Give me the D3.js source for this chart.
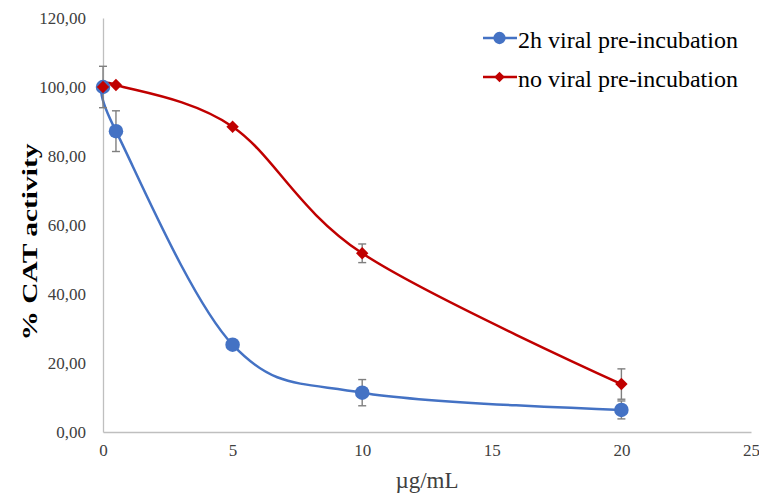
<!DOCTYPE html>
<html>
<head>
<meta charset="utf-8">
<script src="https://cdn.jsdelivr.net/npm/d3@7/dist/d3.min.js"></script>
<style>
  html, body { margin: 0; padding: 0; background: #fff; }
  svg { display: block; }
</style>
</head>
<body>
<svg id="chart" width="759" height="497"></svg>
<script>
// Concentrations (µg/mL)
const doses = [0, 0.5, 5, 10, 20];
// % CAT activity, 2h viral pre-incubation
const preIncValues = [100, 87.2, 25.3, 11.4, 6.4];
const preIncErrors = [6, 5.9, 0, 3.8, 2.6];
// % CAT activity, no viral pre-incubation
const noPreValues = [100, 100.6, 88.5, 51.8, 13.9];
const noPreErrors = [0, 0, 0, 2.7, 4.4];
// Axis ticks
const xTicks = [0, 5, 10, 15, 20, 25];
const yTicks = [0, 20, 40, 60, 80, 100, 120];

const seriesNames = ["2h viral pre-incubation", "no viral pre-incubation"];
const seriesColors = ["#4472C4", "#C00000"];

const serif = "'Liberation Serif', 'Times New Roman', 'DejaVu Serif', serif";

const svg = d3.select("#chart");
const margin = { left: 103, right: 751, top: 18, bottom: 432 };

const x = d3.scaleLinear().domain([0, 25]).range([margin.left, margin.right]);
const y = d3.scaleLinear().domain([0, 120]).range([margin.bottom, margin.top]);

// Axes
const axisColor = "#bfbfbf";
const xAxis = svg.append("g").attr("transform", `translate(0,${margin.bottom})`)
  .call(d3.axisBottom(x).tickValues(xTicks).tickSize(0).tickPadding(12).tickFormat(d3.format("d")));
xAxis.attr("font-family", serif).attr("font-size", 17);
xAxis.select(".domain").attr("stroke", axisColor).attr("stroke-width", 1.3);
xAxis.selectAll("text").attr("fill", "#404040");

const fmt = d => d.toFixed(2).replace(".", ",");
const yAxis = svg.append("g").attr("transform", `translate(${margin.left},0)`)
  .call(d3.axisLeft(y).tickValues(yTicks).tickSize(0).tickPadding(17).tickFormat(fmt));
yAxis.attr("font-family", serif).attr("font-size", 17);
yAxis.select(".domain").attr("stroke", axisColor).attr("stroke-width", 1.3);
yAxis.selectAll("text").attr("fill", "#404040");

// Axis titles
svg.append("text")
  .attr("x", 427).attr("y", 488)
  .attr("text-anchor", "middle")
  .attr("font-family", serif).attr("font-size", 23).attr("fill", "#404040")
  .text("µg/mL");

svg.append("text")
  .attr("transform", "translate(37,242) rotate(-90)")
  .attr("text-anchor", "middle")
  .attr("font-family", serif).attr("font-size", 22).attr("font-weight", "bold").attr("fill", "#000")
  .attr("textLength", 197).attr("lengthAdjust", "spacingAndGlyphs")
  .text("% CAT activity");

const series = [
  { values: preIncValues, errors: preIncErrors, color: seriesColors[0], marker: "circle" },
  { values: noPreValues, errors: noPreErrors, color: seriesColors[1], marker: "diamond" }
];

const line = d3.line().curve(d3.curveCatmullRom.alpha(0))
  .x(d => x(d[0])).y(d => y(d[1]));

// Smoothed lines
series.forEach(s => {
  const pts = doses.map((d, i) => [d, s.values[i]]);
  svg.append("path").datum(pts)
    .attr("d", line)
    .attr("fill", "none")
    .attr("stroke", s.color)
    .attr("stroke-width", 2.5);
});

// Error bars
const errColor = "#7f7f7f";
series.forEach(s => {
  doses.forEach((d, i) => {
    const e = s.errors[i];
    if (!e) return;
    const cx = x(d);
    const g = svg.append("g").attr("stroke", errColor).attr("stroke-width", 1.4);
    g.append("line").attr("x1", cx).attr("x2", cx).attr("y1", y(s.values[i] + e)).attr("y2", y(s.values[i] - e));
    g.append("line").attr("x1", cx - 4).attr("x2", cx + 4).attr("y1", y(s.values[i] + e)).attr("y2", y(s.values[i] + e));
    g.append("line").attr("x1", cx - 4).attr("x2", cx + 4).attr("y1", y(s.values[i] - e)).attr("y2", y(s.values[i] - e));
  });
});

// Markers
const diamondPath = r => `M0,${-r}L${r},0L0,${r}L${-r},0Z`;
function drawMarker(g, type, color, cx, cy, scale = 1) {
  if (type === "circle") {
    g.append("path").attr("d", d3.symbol().type(d3.symbolCircle).size(165 * scale * scale)())
      .attr("transform", `translate(${cx},${cy})`).attr("fill", color);
  } else {
    g.append("path").attr("d", diamondPath(6.2 * scale))
      .attr("transform", `translate(${cx},${cy})`).attr("fill", color);
  }
}
series.forEach(s => {
  const g = svg.append("g");
  doses.forEach((d, i) => drawMarker(g, s.marker, s.color, x(d), y(s.values[i])));
});

// Legend
const legendY = [38, 77];
series.forEach((s, i) => {
  const g = svg.append("g");
  g.append("line").attr("x1", 483).attr("x2", 517).attr("y1", legendY[i]).attr("y2", legendY[i])
    .attr("stroke", s.color).attr("stroke-width", 2.5);
  drawMarker(g, s.marker, s.color, 499.5, legendY[i], 0.85);
  g.append("text").attr("x", 518).attr("y", legendY[i] + 10)
    .attr("font-family", serif).attr("font-size", 24).attr("fill", "#000")
    .text(seriesNames[i]);
});
</script>
</body>
</html>
